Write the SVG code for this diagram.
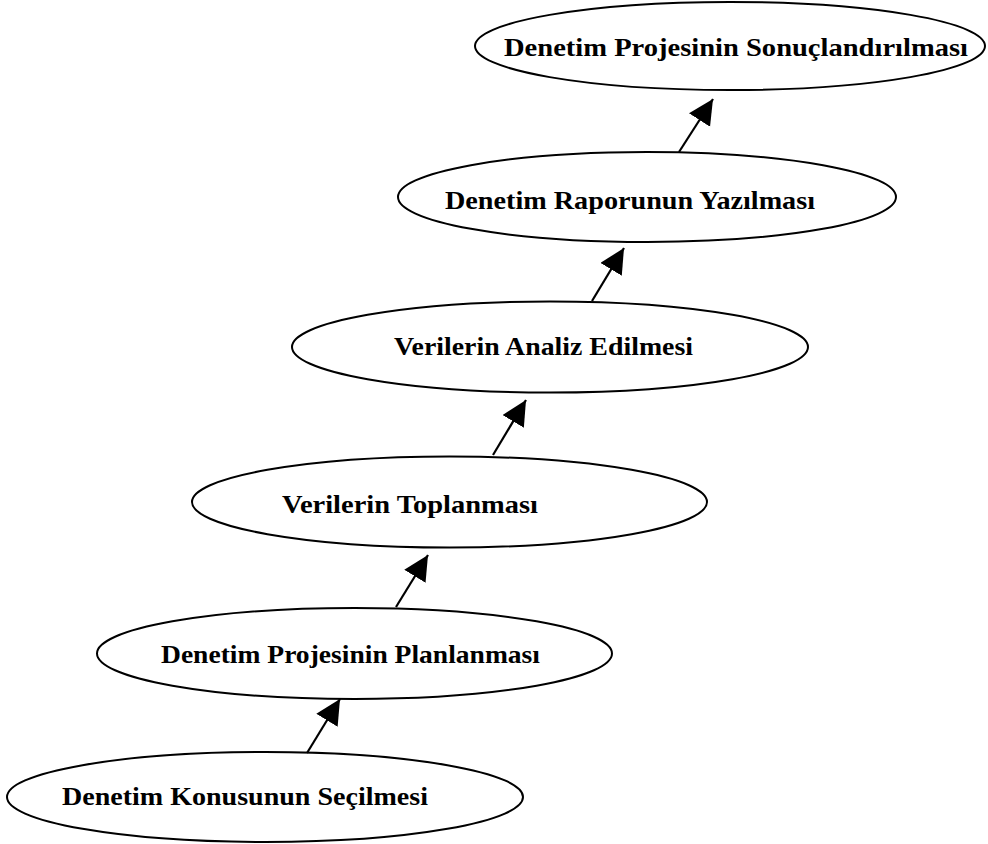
<svg xmlns="http://www.w3.org/2000/svg" width="988" height="844" viewBox="0 0 988 844">
  <style>
    .node ellipse { fill: #ffffff; stroke: #000000; stroke-width: 2; }
    .node text { font-family: "Liberation Serif", "Times New Roman", serif; font-weight: bold; font-size: 26px; fill: #000000; }
    .edge { stroke: #000000; stroke-width: 2.2; fill: none; marker-end: url(#arrow); }
  </style>
  <defs>
    <marker id="arrow" markerUnits="userSpaceOnUse" markerWidth="27" markerHeight="27" refX="25" refY="12.5" orient="auto">
      <path d="M0,0 L25,12.5 L0,25 z" fill="#000000"/>
    </marker>
  </defs>
  <rect width="988" height="844" fill="#ffffff"/>

  <!-- audit process steps, top to bottom -->
  <g id="step6" class="node">
    <ellipse cx="730" cy="46" rx="255" ry="44"/>
    <text x="504" y="56" textLength="464" lengthAdjust="spacingAndGlyphs">Denetim Projesinin Sonuçlandırılması</text>
  </g>
  <g id="step5" class="node">
    <ellipse cx="647" cy="197" rx="249" ry="45"/>
    <text x="445" y="209" textLength="370" lengthAdjust="spacingAndGlyphs">Denetim Raporunun Yazılması</text>
  </g>
  <g id="step4" class="node">
    <ellipse cx="550" cy="347" rx="258" ry="45.5"/>
    <text x="394" y="355" textLength="299" lengthAdjust="spacingAndGlyphs">Verilerin Analiz Edilmesi</text>
  </g>
  <g id="step3" class="node">
    <ellipse cx="449.5" cy="502" rx="257.5" ry="45.5"/>
    <text x="282" y="513" textLength="256" lengthAdjust="spacingAndGlyphs">Verilerin Toplanması</text>
  </g>
  <g id="step2" class="node">
    <ellipse cx="354.5" cy="653.5" rx="257.5" ry="45.5"/>
    <text x="161" y="663" textLength="379" lengthAdjust="spacingAndGlyphs">Denetim Projesinin Planlanması</text>
  </g>
  <g id="step1" class="node">
    <ellipse cx="265" cy="797" rx="258" ry="45"/>
    <text x="62" y="805" textLength="366" lengthAdjust="spacingAndGlyphs">Denetim Konusunun Seçilmesi</text>
  </g>

  <!-- connectors -->
  <g id="connectors">
    <line class="edge" x1="307" y1="753" x2="340" y2="699"/>
    <line class="edge" x1="396" y1="607" x2="428" y2="555"/>
    <line class="edge" x1="493" y1="455" x2="526" y2="400"/>
    <line class="edge" x1="592" y1="301" x2="624" y2="248"/>
    <line class="edge" x1="679" y1="152" x2="713" y2="99"/>
  </g>
</svg>
